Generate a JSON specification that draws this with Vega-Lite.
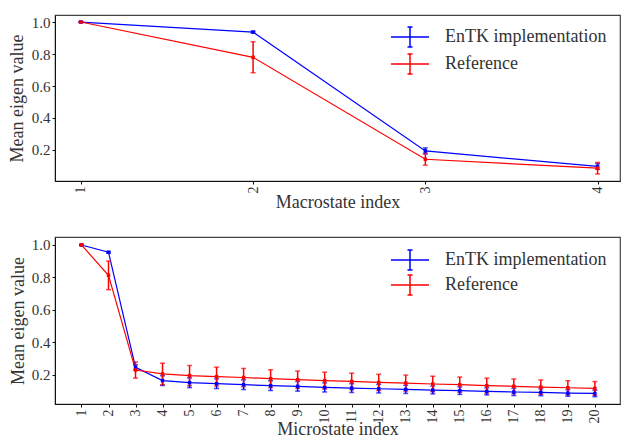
{
  "$schema": "https://vega.github.io/schema/vega-lite/v6.json",
  "padding": {"left": 7, "top": 14, "right": 0, "bottom": 0},
  "spacing": 24,
  "config": {
    "font": "Liberation Serif",
    "view": {"stroke": "#444", "strokeWidth": 1.2},
    "axis": {
      "labelFont": "Liberation Serif", "titleFont": "Liberation Serif",
      "labelFontSize": 15, "titleFontSize": 18, "titleFontWeight": "normal",
      "labelColor": "#333", "titleColor": "#333",
      "domainColor": "#111", "tickColor": "#111", "tickSize": 3, "labelPadding": 2, "grid": false
    },
    "legend": {"labelFont": "Liberation Serif", "labelFontSize": 18, "labelColor": "#333", "labelLimit": 0, "padding": 0}
  },
  "datasets": {
    "macro": [
      {"idx": 1, "series": "EnTK implementation", "mean": 1.0, "lo": 0.997, "hi": 1.003},
      {"idx": 2, "series": "EnTK implementation", "mean": 0.937, "lo": 0.931, "hi": 0.943},
      {"idx": 3, "series": "EnTK implementation", "mean": 0.194, "lo": 0.175, "hi": 0.213},
      {"idx": 4, "series": "EnTK implementation", "mean": 0.097, "lo": 0.079, "hi": 0.115},
      {"idx": 1, "series": "Reference", "mean": 1.0, "lo": 0.997, "hi": 1.003},
      {"idx": 2, "series": "Reference", "mean": 0.779, "lo": 0.683, "hi": 0.877},
      {"idx": 3, "series": "Reference", "mean": 0.142, "lo": 0.105, "hi": 0.18},
      {"idx": 4, "series": "Reference", "mean": 0.086, "lo": 0.05, "hi": 0.122}
    ],
    "micro": [
      {"idx": 1, "series": "EnTK implementation", "mean": 1.0, "lo": 0.997, "hi": 1.003},
      {"idx": 2, "series": "EnTK implementation", "mean": 0.955, "lo": 0.95, "hi": 0.96},
      {"idx": 3, "series": "EnTK implementation", "mean": 0.247, "lo": 0.232, "hi": 0.262},
      {"idx": 4, "series": "EnTK implementation", "mean": 0.165, "lo": 0.135, "hi": 0.195},
      {"idx": 5, "series": "EnTK implementation", "mean": 0.152, "lo": 0.122, "hi": 0.182},
      {"idx": 6, "series": "EnTK implementation", "mean": 0.146, "lo": 0.116, "hi": 0.176},
      {"idx": 7, "series": "EnTK implementation", "mean": 0.14, "lo": 0.11, "hi": 0.17},
      {"idx": 8, "series": "EnTK implementation", "mean": 0.134, "lo": 0.104, "hi": 0.164},
      {"idx": 9, "series": "EnTK implementation", "mean": 0.13, "lo": 0.1, "hi": 0.16},
      {"idx": 10, "series": "EnTK implementation", "mean": 0.123, "lo": 0.095, "hi": 0.151},
      {"idx": 11, "series": "EnTK implementation", "mean": 0.119, "lo": 0.092, "hi": 0.146},
      {"idx": 12, "series": "EnTK implementation", "mean": 0.115, "lo": 0.089, "hi": 0.141},
      {"idx": 13, "series": "EnTK implementation", "mean": 0.111, "lo": 0.086, "hi": 0.136},
      {"idx": 14, "series": "EnTK implementation", "mean": 0.107, "lo": 0.083, "hi": 0.131},
      {"idx": 15, "series": "EnTK implementation", "mean": 0.103, "lo": 0.08, "hi": 0.126},
      {"idx": 16, "series": "EnTK implementation", "mean": 0.099, "lo": 0.077, "hi": 0.121},
      {"idx": 17, "series": "EnTK implementation", "mean": 0.095, "lo": 0.073, "hi": 0.117},
      {"idx": 18, "series": "EnTK implementation", "mean": 0.093, "lo": 0.072, "hi": 0.114},
      {"idx": 19, "series": "EnTK implementation", "mean": 0.088, "lo": 0.068, "hi": 0.108},
      {"idx": 20, "series": "EnTK implementation", "mean": 0.086, "lo": 0.066, "hi": 0.106},
      {"idx": 1, "series": "Reference", "mean": 1.0, "lo": 0.997, "hi": 1.003},
      {"idx": 2, "series": "Reference", "mean": 0.813, "lo": 0.725, "hi": 0.901},
      {"idx": 3, "series": "Reference", "mean": 0.23, "lo": 0.18, "hi": 0.28},
      {"idx": 4, "series": "Reference", "mean": 0.206, "lo": 0.14, "hi": 0.272},
      {"idx": 5, "series": "Reference", "mean": 0.196, "lo": 0.134, "hi": 0.258},
      {"idx": 6, "series": "Reference", "mean": 0.19, "lo": 0.132, "hi": 0.248},
      {"idx": 7, "series": "Reference", "mean": 0.184, "lo": 0.128, "hi": 0.24},
      {"idx": 8, "series": "Reference", "mean": 0.177, "lo": 0.122, "hi": 0.232},
      {"idx": 9, "series": "Reference", "mean": 0.171, "lo": 0.118, "hi": 0.224},
      {"idx": 10, "series": "Reference", "mean": 0.165, "lo": 0.113, "hi": 0.217},
      {"idx": 11, "series": "Reference", "mean": 0.16, "lo": 0.109, "hi": 0.211},
      {"idx": 12, "series": "Reference", "mean": 0.154, "lo": 0.104, "hi": 0.204},
      {"idx": 13, "series": "Reference", "mean": 0.15, "lo": 0.101, "hi": 0.199},
      {"idx": 14, "series": "Reference", "mean": 0.144, "lo": 0.096, "hi": 0.192},
      {"idx": 15, "series": "Reference", "mean": 0.14, "lo": 0.093, "hi": 0.187},
      {"idx": 16, "series": "Reference", "mean": 0.134, "lo": 0.088, "hi": 0.18},
      {"idx": 17, "series": "Reference", "mean": 0.13, "lo": 0.085, "hi": 0.175},
      {"idx": 18, "series": "Reference", "mean": 0.125, "lo": 0.081, "hi": 0.169},
      {"idx": 19, "series": "Reference", "mean": 0.121, "lo": 0.078, "hi": 0.164},
      {"idx": 20, "series": "Reference", "mean": 0.117, "lo": 0.075, "hi": 0.159}
    ]
  },
  "vconcat": [
    {
      "width": 565, "height": 166,
      "data": {"name": "macro"},
      "encoding": {
        "x": {"field": "idx", "type": "quantitative", "title": "Macrostate index",
          "scale": {"domain": [0.85, 4.13], "nice": false, "zero": false},
          "axis": {"values": [1, 2, 3, 4], "labelAngle": -90, "labelAlign": "right", "labelBaseline": "middle", "labelFontSize": 14, "titlePadding": 0}},
        "color": {"field": "series", "type": "nominal",
          "scale": {"domain": ["EnTK implementation", "Reference"], "range": ["#0000ff", "#ff0000"]}}
      },
      "layer": [
        {
          "mark": {"type": "line", "strokeWidth": 1.2},
          "encoding": {
            "y": {"field": "mean", "type": "quantitative", "title": "Mean eigen value",
              "scale": {"domain": [0.006, 1.044], "nice": false, "zero": false},
              "axis": {"values": [0.2, 0.4, 0.6, 0.8, 1.0], "format": ".1f", "titlePadding": 5}},
            "color": {"field": "series", "type": "nominal",
              "legend": {"title": null, "orient": "none", "legendX": 344, "legendY": 11,
                "symbolType": "M-1.9,0H1.9M0,-1V1M-0.25,-1H0.25M-0.25,1H0.25",
                "symbolSize": 400, "symbolStrokeWidth": 1.5, "labelOffset": 24, "rowPadding": 1}}
          }
        },
        {
          "mark": {"type": "errorbar", "ticks": {"size": 5}, "thickness": 1.5},
          "encoding": {
            "y": {"field": "lo", "type": "quantitative", "title": "Mean eigen value"},
            "y2": {"field": "hi"},
            "color": {"field": "series", "type": "nominal", "legend": null}
          }
        },
        {
          "mark": {"type": "point", "shape": "square", "filled": true, "size": 12, "opacity": 1},
          "encoding": {
            "y": {"field": "mean", "type": "quantitative", "title": "Mean eigen value"},
            "color": {"field": "series", "type": "nominal", "legend": null}
          }
        }
      ]
    },
    {
      "width": 565, "height": 167,
      "data": {"name": "micro"},
      "encoding": {
        "x": {"field": "idx", "type": "quantitative", "title": "Microstate index",
          "scale": {"domain": [0.02, 20.93], "nice": false, "zero": false},
          "axis": {"values": [1,2,3,4,5,6,7,8,9,10,11,12,13,14,15,16,17,18,19,20], "labelAngle": -90, "labelAlign": "right", "labelBaseline": "middle", "labelFontSize": 14, "titlePadding": -3}},
        "color": {"field": "series", "type": "nominal",
          "scale": {"domain": ["EnTK implementation", "Reference"], "range": ["#0000ff", "#ff0000"]}}
      },
      "layer": [
        {
          "mark": {"type": "line", "strokeWidth": 1.2},
          "encoding": {
            "y": {"field": "mean", "type": "quantitative", "title": "Mean eigen value",
              "scale": {"domain": [0.021, 1.049], "nice": false, "zero": false},
              "axis": {"values": [0.2, 0.4, 0.6, 0.8, 1.0], "format": ".1f", "titlePadding": 4}},
            "color": {"field": "series", "type": "nominal",
              "legend": {"title": null, "orient": "none", "legendX": 344, "legendY": 12,
                "symbolType": "M-1.9,0H1.9M0,-1V1M-0.25,-1H0.25M-0.25,1H0.25",
                "symbolSize": 400, "symbolStrokeWidth": 1.5, "labelOffset": 24, "rowPadding": -1}}
          }
        },
        {
          "mark": {"type": "errorbar", "ticks": {"size": 5}, "thickness": 1.5},
          "encoding": {
            "y": {"field": "lo", "type": "quantitative", "title": "Mean eigen value"},
            "y2": {"field": "hi"},
            "color": {"field": "series", "type": "nominal", "legend": null}
          }
        },
        {
          "mark": {"type": "point", "shape": "square", "filled": true, "size": 12, "opacity": 1},
          "encoding": {
            "y": {"field": "mean", "type": "quantitative", "title": "Mean eigen value"},
            "color": {"field": "series", "type": "nominal", "legend": null}
          }
        }
      ]
    }
  ],
  "resolve": {"scale": {"color": "independent"}, "legend": {"color": "independent"}}
}
